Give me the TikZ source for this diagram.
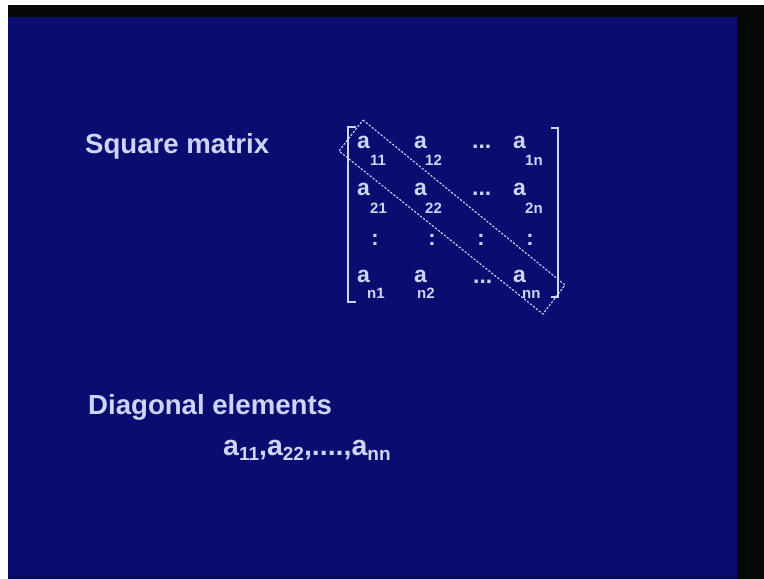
\documentclass[tikz,border=0pt]{standalone}
\usepackage{fontspec}
\setmainfont{Liberation Sans}
\definecolor{bg}{RGB}{10,12,112}
\definecolor{fg}{RGB}{205,213,252}
\definecolor{band}{RGB}{6,8,6}
\tikzset{
  lbl/.style={text=fg, inner sep=0pt, anchor=base west, font=\fontsize{27.6}{30}\selectfont\bfseries},
  elem/.style={text=fg, inner sep=0pt, anchor=base west, font=\fontsize{23}{24}\selectfont\bfseries},
  sub/.style={text=fg, inner sep=0pt, anchor=base west, font=\fontsize{15}{17}\selectfont\bfseries},
  vdots/.style={text=fg, inner sep=0pt, anchor=base, font=\fontsize{22}{24}\selectfont\bfseries},
  brk/.style={draw=fg, line width=1.5pt},
  diag/.style={draw=fg, line width=1.1pt, dash pattern=on 2.2pt off 1.6pt}
}
\newcommand{\dsub}[1]{\raisebox{-5pt}{\fontsize{19}{20}\selectfont #1}}
\begin{document}
\begin{tikzpicture}[x=1pt,y=-1pt]
\useasboundingbox (0,0) rectangle (764,579);
\fill[white] (0,0) rectangle (764,579);
\fill[band] (8,5) rectangle (764,579);
\fill[bg] (8,17) rectangle (737,579);
\fill[bg!80!black] (8,576) rectangle (737,579);

\node[lbl] (title) at (85,153) {Square matrix};

% matrix elements
\node[elem] (a11) at (357,148) {a}; \node[sub] (s11) at (370,165) {11};
\node[elem] (a12) at (414,148) {a}; \node[sub] (s12) at (425,165) {12};
\node[elem] (d1)  at (472,148) {...};
\node[elem] (a1n) at (513,148) {a}; \node[sub] (s1n) at (525,165) {1n};

\node[elem] (a21) at (357,195) {a}; \node[sub] (s21) at (370,213) {21};
\node[elem] (a22) at (414,195) {a}; \node[sub] (s22) at (425,213) {22};
\node[elem] (d2)  at (472,195) {...};
\node[elem] (a2n) at (513,195) {a}; \node[sub] (s2n) at (525,213) {2n};

\node[vdots] (v1) at (375,245) {:};
\node[vdots] (v2) at (432,245) {:};
\node[vdots] (v3) at (481,245) {:};
\node[vdots] (v4) at (530,245) {:};

\node[elem] (an1) at (357,282) {a}; \node[sub] (sn1) at (367,298) {n1};
\node[elem] (an2) at (414,282) {a}; \node[sub] (sn2) at (417,298) {n2};
\node[elem] (d4)  at (473,283) {...};
\node[elem] (ann) at (513,282) {a}; \node[sub] (snn) at (522,298) {nn};

% brackets
\draw[brk] (356,127) -- (348,127) -- (348,302) -- (356,302);
\draw[brk] (551,128) -- (558,128) -- (558,297) -- (551,297);

% dashed diagonal box
\coordinate (cA) at (363,120);
\coordinate (cB) at (565,285);
\coordinate (cC) at (543,314);
\coordinate (cD) at (339,151);
\draw[diag] (cA) -- (cB) -- (cC) -- (cD) -- cycle;

\node[lbl] (dlabel) at (88,414) {Diagonal elements};
\node[lbl, font=\fontsize{28.5}{30}\selectfont\bfseries] (dlist) at (223,455)
  {a\dsub{11},a\dsub{22},....,a\dsub{nn}};
\end{tikzpicture}
\end{document}
